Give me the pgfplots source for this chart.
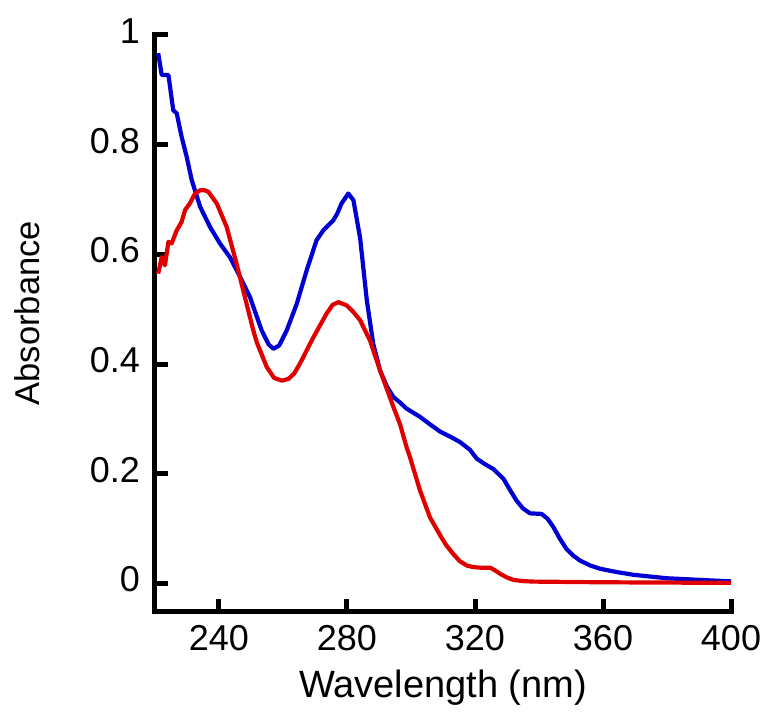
\documentclass[border=0pt]{standalone}
\usepackage{fontspec}
\setmainfont{Liberation Sans}
\usepackage{pgfplots}
\pgfplotsset{compat=1.18}

\definecolor{specblue}{RGB}{0,0,210}
\definecolor{specred}{RGB}{224,0,0}

\begin{document}
\begin{tikzpicture}
% page size matched to the reference (1pt ~ 1px)
\useasboundingbox (-155pt,-102pt) rectangle (614pt,611pt);
\begin{axis}[
scale only axis,
width=576pt, height=576pt,
xmin=220, xmax=400,
ymin=-0.05, ymax=1,
axis lines=left,
axis line style={-, line width=5pt, line cap=rect},
tick align=inside,
major tick length=12.5pt,
tick style={line width=5pt, color=black},
xtick={240,280,320,360,400},
ytick={0,0.2,0.4,0.6,0.8,1},
yticklabels={0,0.2,0.4,0.6,0.8,1},
/pgf/number format/assume math mode=true,
ticklabel style={font=\fontsize{36}{42}\selectfont},
xticklabel style={anchor=base, yshift=-39pt},
yticklabel style={anchor=east, inner sep=0pt, xshift=-15pt, yshift=4pt},
xlabel={Wavelength (nm)},
ylabel={Absorbance},
xlabel style={font=\fontsize{38}{44}\selectfont, at={(axis description cs:0.5,-0.151)}, anchor=base},
ylabel style={font=\fontsize{34.5}{40}\selectfont, at={(axis description cs:-0.222,0.517)}, anchor=center, rotate=0},
every axis plot/.append style={line width=4.2pt, line join=round},
]
% blue spectrum
\addplot [specblue] table {
221.0 0.967
222.1 0.927
224.2 0.927
225.7 0.863
226.8 0.857
228.3 0.815
229.9 0.778
231.5 0.735
234.1 0.687
237.2 0.650
240.3 0.620
243.4 0.595
246.6 0.559
249.7 0.522
253.3 0.462
255.5 0.436
257.0 0.428
258.8 0.434
261.2 0.462
264.3 0.510
267.4 0.571
270.5 0.626
272.6 0.644
275.7 0.662
277.0 0.675
278.3 0.693
280.4 0.711
282.0 0.699
284.1 0.630
286.2 0.516
288.2 0.437
290.3 0.389
292.4 0.360
294.5 0.340
296.6 0.330
298.6 0.319
302.8 0.304
306.0 0.290
309.1 0.277
312.2 0.268
315.3 0.258
318.4 0.244
320.5 0.228
323.0 0.218
325.7 0.209
328.9 0.191
331.0 0.170
333.0 0.151
335.0 0.137
337.2 0.128
340.8 0.127
342.7 0.118
344.5 0.103
346.5 0.082
348.6 0.063
350.7 0.051
352.8 0.042
356.0 0.033
359.1 0.027
364.3 0.021
369.5 0.016
379.9 0.0097
390.3 0.0067
400.0 0.004
};
% red spectrum
\addplot [specred] table {
221.0 0.565
222.1 0.595
223.1 0.580
224.2 0.623
225.2 0.620
226.8 0.644
228.3 0.659
229.4 0.681
230.9 0.693
232.5 0.711
234.1 0.717
235.5 0.717
236.7 0.714
239.3 0.693
242.4 0.650
245.5 0.583
248.1 0.522
250.7 0.462
251.8 0.440
254.9 0.395
257.2 0.375
259.6 0.370
261.7 0.373
263.5 0.383
265.3 0.401
269.5 0.449
273.6 0.492
275.5 0.508
277.3 0.513
279.9 0.507
282.0 0.495
284.1 0.480
287.2 0.443
290.3 0.389
294.5 0.322
296.6 0.290
298.6 0.249
299.7 0.230
302.8 0.170
305.9 0.121
309.1 0.088
311.0 0.070
313.2 0.054
315.2 0.041
317.4 0.033
319.5 0.030
321.6 0.029
324.7 0.029
326.3 0.024
327.8 0.018
330.0 0.011
332.0 0.0067
335.0 0.0045
338.2 0.0036
359.1 0.0024
380.0 0.0018
400.0 0.0013
};
\end{axis}
\end{tikzpicture}
\end{document}
